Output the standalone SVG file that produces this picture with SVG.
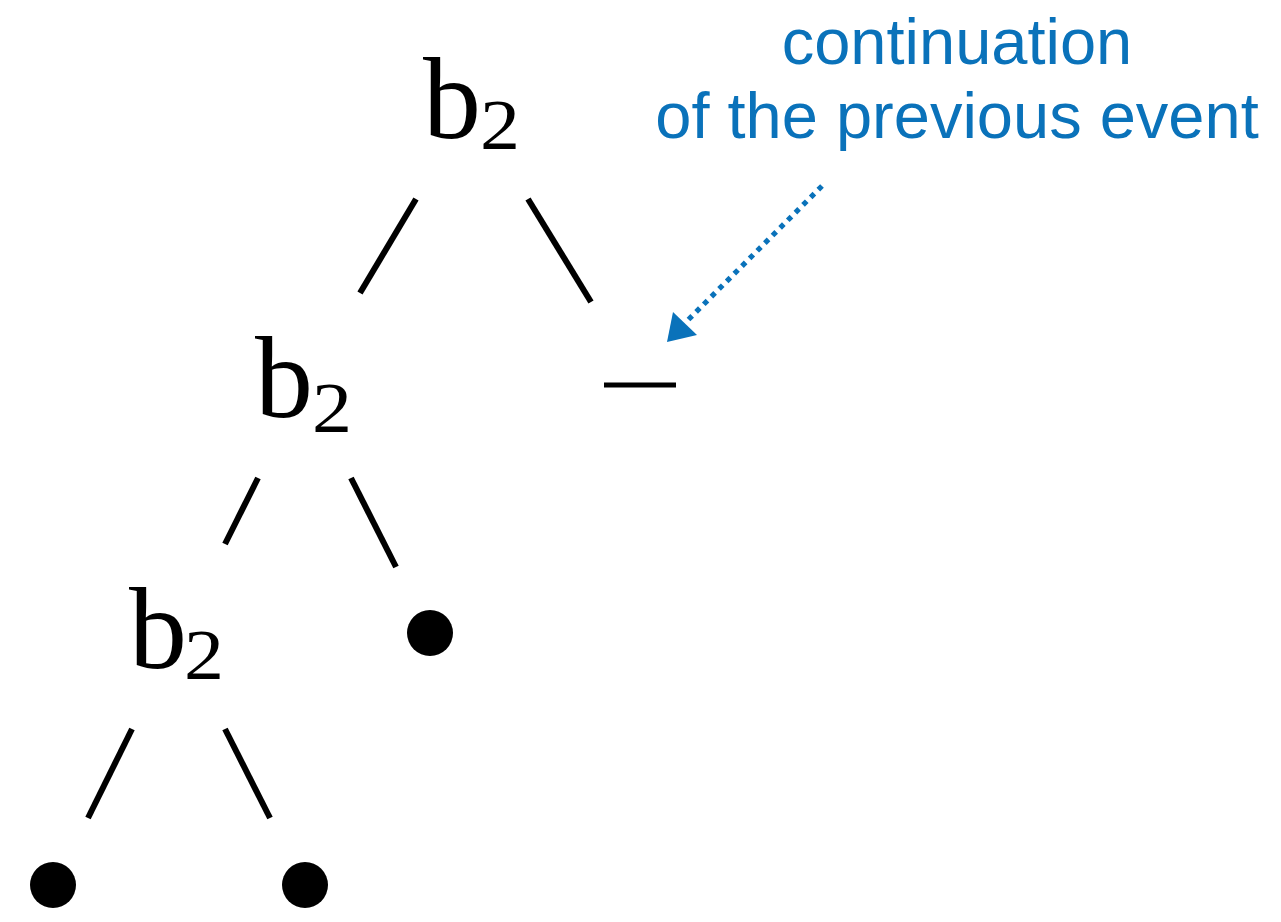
<svg xmlns="http://www.w3.org/2000/svg" width="1281" height="922" viewBox="0 0 1281 922">
  <style>
    .b { font-family: "Liberation Serif", "DejaVu Serif", serif; font-size: 116px; fill: #000; }
    .sub { font-family: "Liberation Serif", "DejaVu Serif", serif; font-size: 72px; fill: #000; }
    .edge { stroke: #000; stroke-width: 6; fill: none; }
    .leaf { fill: #000; }
    .note { font-family: "Liberation Sans", Arial, sans-serif; font-size: 65px; fill: #0a72ba; text-anchor: middle; }
    .arrow { stroke: #0a72ba; stroke-width: 5.2; stroke-dasharray: 5.2 5.6; fill: none; }
  </style>
  <rect width="1281" height="922" fill="#fff"/>

  <g id="node-root">
    <text class="b" x="423" y="138">b</text>
    <text class="sub" x="480" y="149" textLength="40" lengthAdjust="spacingAndGlyphs">2</text>
  </g>
  <g id="node-mid">
    <text class="b" x="255" y="417">b</text>
    <text class="sub" x="312" y="432" textLength="40" lengthAdjust="spacingAndGlyphs">2</text>
  </g>
  <g id="node-low">
    <text class="b" x="129" y="668">b</text>
    <text class="sub" x="184" y="679" textLength="40" lengthAdjust="spacingAndGlyphs">2</text>
  </g>
  <g id="node-dash">
    <line x1="604" y1="385" x2="676" y2="385" stroke="#000" stroke-width="5"/>
  </g>
  <g id="leaf-mid">
    <circle class="leaf" cx="430" cy="633" r="23"/>
  </g>
  <g id="leaf-left">
    <circle class="leaf" cx="53" cy="885" r="23"/>
  </g>
  <g id="leaf-right">
    <circle class="leaf" cx="305" cy="885" r="23"/>
  </g>
  <g id="note">
    <text class="note" x="957" y="64">continuation</text>
    <text class="note" x="957" y="138">of the previous event</text>
  </g>

  <g id="connectors">
    <line class="edge" x1="416" y1="199" x2="360" y2="293"/>
    <line class="edge" x1="528" y1="199" x2="591" y2="302"/>
    <line class="edge" x1="258" y1="478" x2="225" y2="544"/>
    <line class="edge" x1="351" y1="478" x2="396" y2="567"/>
    <line class="edge" x1="132" y1="729" x2="88" y2="818"/>
    <line class="edge" x1="225" y1="729" x2="270" y2="818"/>
    <line class="arrow" x1="822" y1="186" x2="686" y2="322"/>
    <polygon points="667,342 673,312 697,335" fill="#0a72ba"/>
  </g>
</svg>
